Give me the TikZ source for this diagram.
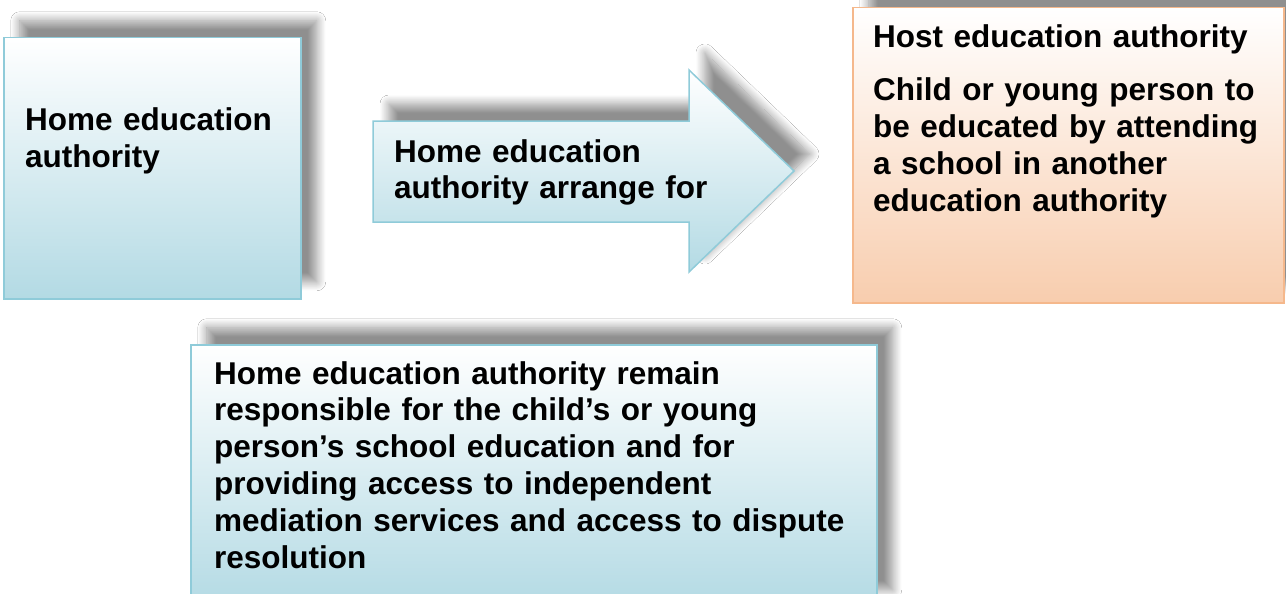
\documentclass[tikz,border=0pt]{standalone}
\usepackage{fontspec}
\setmainfont{Liberation Sans}
\usetikzlibrary{shadows.blur}

\definecolor{edgeblue}{HTML}{8FCBD9}
\definecolor{fillblue}{HTML}{B3DAE4}
\definecolor{edgepeach}{HTML}{F5B88C}
\definecolor{fillpeach}{HTML}{F8CDAE}

\tikzset{
	boxshadow/.style={blur shadow={shadow xshift=16pt, shadow yshift=17pt,
		shadow blur radius=9pt, shadow blur steps=14, shadow opacity=44}},
	bluebox/.style={draw=edgeblue, line width=1.5pt, top color=white,
		bottom color=fillblue, boxshadow},
	peachbox/.style={draw=edgepeach, line width=1.5pt, top color=white,
		middle color=white!55!fillpeach, bottom color=fillpeach, boxshadow},
	boxtext/.style={font=\fontsize{31.5}{36.8}\selectfont\bfseries, inner sep=0pt,
		anchor=base west, align=left},
}

\begin{document}
\begin{tikzpicture}[x=1pt, y=-1pt]
\clip (0,0) rectangle (1286,594);
\fill[white] (0,0) rectangle (1286,594);

% home authority
\node[bluebox, anchor=north west, inner sep=0pt, minimum width=297pt,
	minimum height=261pt] (home) at (3,37) {};
\node[boxtext, text width=265pt] (hometext) at (25,131) {Home education\\ authority};

% arrange arrow
\draw[bluebox] (373,121) -- (689,121) -- (689,70) -- (794,171)
	-- (689,272) -- (689,222) -- (373,222) -- cycle;
\node[boxtext, text width=330pt] (arrangetext) at (394,162) {Home education\\ authority arrange for};

% host authority
\node[peachbox, anchor=north west, inner sep=0pt, minimum width=431pt,
	minimum height=295pt] (host) at (852,7) {};
\node[boxtext, text width=400pt] (hosttext) at (873,48) {Host education authority\par
	\vspace{16pt}Child or young person to\\ be educated by attending\\ a school in another\\ education authority};

% remain responsible
\node[bluebox, anchor=north west, inner sep=0pt, minimum width=686pt,
	minimum height=262pt] (remain) at (190,344) {};
\node[boxtext, text width=650pt] (remaintext) at (214,384) {Home education authority remain\\
	responsible for the child’s or young\\ person’s school education and for\\
	providing access to independent\\ mediation services and access to dispute\\ resolution};
\end{tikzpicture}
\end{document}
